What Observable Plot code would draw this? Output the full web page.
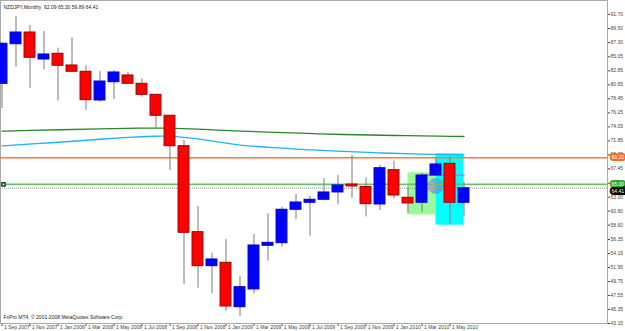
<!DOCTYPE html>
<html><head><meta charset="utf-8">
<script src="https://cdn.jsdelivr.net/npm/d3@7"></script>
<script src="https://cdn.jsdelivr.net/npm/@observablehq/plot@0.6"></script>
<style>
html,body{margin:0;padding:0;background:#fff;}
svg{display:block;font-family:"Liberation Sans",Arial,sans-serif;}
</style></head>
<body><div id="chart"></div>
<script>
const months = ["Sep 2007","Oct 2007","Nov 2007","Dec 2007","Jan 2008","Feb 2008","Mar 2008","Apr 2008","May 2008","Jun 2008","Jul 2008","Aug 2008","Sep 2008","Oct 2008","Nov 2008","Dec 2008","Jan 2009","Feb 2009","Mar 2009","Apr 2009","May 2009","Jun 2009","Jul 2009","Aug 2009","Sep 2009","Oct 2009","Nov 2009","Dec 2009","Jan 2010","Feb 2010","Mar 2010","Apr 2010","May 2010","Jun 2010"];
const opens  = [80.81,87.03,88.87,84.63,85.53,83.69,82.70,78.19,81.06,82.12,80.81,79.08,75.79,71.01,57.50,52.16,52.69,45.71,48.50,55.36,55.77,61.02,62.12,62.59,63.74,64.99,64.60,61.85,67.24,62.90,62.12,66.41,68.24,62.12];
const highs  = [87.30,91.39,89.97,89.03,86.41,88.04,83.64,82.75,82.90,82.63,81.60,79.13,75.84,71.90,61.54,54.20,56.35,50.54,57.14,60.39,61.43,63.42,63.11,65.93,66.41,69.55,66.00,68.00,68.65,64.57,66.72,69.08,69.28,65.30];
const lows   = [76.93,83.42,80.12,83.01,78.08,82.67,76.62,77.92,78.35,80.70,78.71,73.84,67.19,49.28,48.70,47.82,45.09,44.25,47.82,52.94,55.14,59.45,56.87,62.43,61.80,62.79,59.90,60.90,62.74,60.48,60.64,66.30,58.66,59.89];
const closes = [87.10,88.87,84.90,85.42,83.64,82.70,78.24,81.17,82.59,80.81,79.08,75.79,71.01,57.40,52.16,53.21,45.82,48.86,55.41,55.83,61.02,62.16,62.59,63.74,64.84,64.68,61.90,67.55,63.26,62.01,66.41,68.14,62.12,64.41];

// moving averages (index, price)
const maGreenIdx   = [0,2,4,7,10,12,14,16,19,22,24,28,33];
const maGreenVal   = [73.37,73.48,73.59,73.71,73.87,73.87,73.68,73.48,73.21,73.00,72.85,72.69,72.53];
const maBlueIdx    = [0,2,5,7,9,11,12,14,15,17,20,22,25,27,30,33];
const maBlueVal    = [71.05,71.35,71.75,72.11,72.40,72.60,72.62,72.20,71.80,71.10,70.72,70.40,70.17,69.92,69.78,69.60];

const yTickLabels = ["91.70","89.50","87.30","85.05","82.85","80.65","78.45","76.25","74.05","71.85","69.65","67.45","65.20","63.00","60.80","58.60","56.35","54.15","51.95","49.75","47.55","45.35","43.15"];
const xTickIdx = [0,2,4,6,8,10,12,14,16,18,20,22,24,26,28,30,32];

const title = "NZDJPY,Monthly  62.09 65.30 59.89 64.41";
const copyright = "FxPro MT4, © 2001-2008 MetaQuotes Software Corp.";

const orangeLevel = 69.20, greenLevel = 65.00, bidLevel = 64.41;
const boxes = [
  {label: "69.20", price: orangeLevel, color: "#ff6a28", text: "#fff"},
  {label: "65.00", price: greenLevel, color: "#2ea82e", text: "#fff"},
  {label: "64.41", price: bidLevel - 0.55, color: "#000", text: "#fff"}
];
const rects = [
  {x1: 29, x2: 31, y1: 60.23, y2: 66.83, fill: "#98fb98"},
  {x1: 31, x2: 33, y1: 58.60, y2: 69.81, fill: "#00ffff"}
];
const violet = [{i: 30, p: 66.45}, {i: 33, p: 66.45}];
const ellipse = [{i: 31, p: 64.76}];
const hatch = [{i: 30.6, p: 64.7}];

const candles = months.map((m, i) => ({i, m, o: opens[i], h: highs[i], l: lows[i], c: closes[i], up: closes[i] >= opens[i]}));
const maG = maGreenIdx.map((i, k) => ({i, p: maGreenVal[k]}));
const maB = maBlueIdx.map((i, k) => ({i, p: maBlueVal[k]}));

const plot = Plot.plot({
  width: 625, height: 331,
  marginLeft: 0, marginRight: 18, marginTop: 0, marginBottom: 8,
  style: {fontSize: "5px", background: "#fff", color: "#444"},
  x: {domain: [-1.5/14, (607 - 1.5)/14], axis: "bottom", ticks: xTickIdx, tickFormat: () => "", tickSize: 3, line: false},
  y: {domain: [43.15, 93.90], axis: "right", ticks: yTickLabels.map(Number), tickFormat: (d, k) => yTickLabels[k], tickSize: 2, tickPadding: 1, line: true, label: null},
  marks: [
    Plot.frame({stroke: "#aaa"}),
    Plot.rect(rects, {x1: "x1", x2: "x2", y1: "y1", y2: "y2", fill: d => d.fill}),
    Plot.dot(ellipse, {x: "i", y: "p", r: 8, fill: "#4aa0e6", fillOpacity: 0.75}),
    Plot.dot(hatch, {x: "i", y: "p", r: 5, fill: "#d0a0d0", fillOpacity: 0.7}),
    Plot.line(maG, {x: "i", y: "p", stroke: "#2a862a", strokeWidth: 1.3, curve: "basis"}),
    Plot.line(maB, {x: "i", y: "p", stroke: "#1fb2f2", strokeWidth: 1.3, curve: "basis"}),
    Plot.ruleY([orangeLevel], {stroke: "#ff7a3a", strokeWidth: 1.5}),
    Plot.ruleY([greenLevel], {stroke: "#6cc06c", strokeWidth: 1.8}),
    Plot.ruleY([bidLevel], {stroke: "#999", strokeDasharray: "1,1"}),
    Plot.line(violet, {x: "i", y: "p", stroke: "#c070f0", strokeWidth: 1.5}),
    Plot.ruleX(candles, {x: "i", y1: "l", y2: "h", stroke: "#7a7a7a", strokeWidth: 1}),
    Plot.rect(candles, {x1: d => d.i - 0.39, x2: d => d.i + 0.39, y1: "o", y2: "c",
      fill: d => d.up ? "#0000ff" : "#ff0000", stroke: d => d.up ? "#0000c8" : "#a00000", strokeWidth: 1}),
    Plot.dot([greenLevel], {y: d => d, frameAnchor: "left", dx: 3, symbol: "square", r: 1.8, stroke: "#333", fill: "#fff"}),
    Plot.text(boxes, {y: "price", text: "label", frameAnchor: "right", dx: 4, textAnchor: "start",
      fill: d => d.text, stroke: d => d.color, strokeWidth: 4, strokeLinejoin: "miter", fontSize: 5}),
    Plot.text(xTickIdx, {x: d => d, text: d => "1 " + months[d], frameAnchor: "bottom", dy: 5, dx: 2, textAnchor: "start", fill: "#444", fontSize: 5}),
    Plot.text([title], {frameAnchor: "top-left", dx: 3, dy: 5, textAnchor: "start", fill: "#222", fontSize: 5}),
    Plot.text([copyright], {frameAnchor: "bottom-left", dx: 3, dy: -5, textAnchor: "start", fill: "#222", fontSize: 5})
  ]
});
document.getElementById("chart").appendChild(plot);
</script></body></html>
